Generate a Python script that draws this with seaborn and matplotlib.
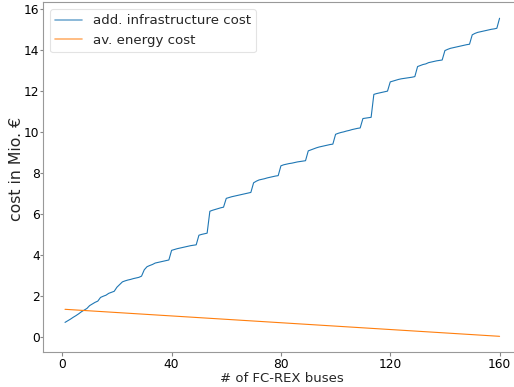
import matplotlib
matplotlib.use("Agg")
import matplotlib.pyplot as plt
import numpy as np
import pandas as pd
import seaborn as sns

# number of FC-REX buses in the fleet
buses = list(range(1, 161))

# additional charging/fuelling infrastructure cost, Mio. €
infra_cost = [
    0.70, 0.78, 0.86, 0.95, 1.03, 1.12, 1.22, 1.30, 1.38, 1.52,
    1.60, 1.68, 1.74, 1.92, 1.98, 2.03, 2.12, 2.17, 2.22, 2.42,
    2.55, 2.68, 2.73, 2.77, 2.80, 2.84, 2.87, 2.90, 2.96, 3.27,
    3.42, 3.48, 3.53, 3.60, 3.63, 3.66, 3.69, 3.72, 3.75, 4.22,
    4.26, 4.30, 4.33, 4.36, 4.39, 4.42, 4.45, 4.47, 4.49, 4.96,
    5.00, 5.03, 5.06, 6.13, 6.18, 6.22, 6.26, 6.30, 6.33, 6.76,
    6.80, 6.84, 6.87, 6.90, 6.93, 6.96, 6.99, 7.02, 7.05, 7.52,
    7.60, 7.66, 7.69, 7.72, 7.76, 7.79, 7.82, 7.85, 7.87, 8.35,
    8.40, 8.43, 8.46, 8.48, 8.51, 8.54, 8.56, 8.58, 8.60, 9.08,
    9.13, 9.18, 9.23, 9.27, 9.30, 9.33, 9.36, 9.39, 9.41, 9.89,
    9.94, 9.98, 10.01, 10.05, 10.08, 10.12, 10.15, 10.18, 10.20, 10.66,
    10.68, 10.70, 10.72, 11.84, 11.88, 11.91, 11.94, 11.97, 12.00, 12.45,
    12.49, 12.53, 12.57, 12.60, 12.62, 12.64, 12.66, 12.68, 12.71, 13.20,
    13.25, 13.30, 13.33, 13.39, 13.42, 13.45, 13.48, 13.50, 13.52, 13.98,
    14.04, 14.09, 14.12, 14.15, 14.18, 14.21, 14.24, 14.27, 14.29, 14.75,
    14.82, 14.87, 14.90, 14.93, 14.96, 14.99, 15.02, 15.04, 15.07, 15.56,
]

# average energy cost falls linearly between the first and last fleet size
energy_buses = [1, 160]
energy_cost = [1.34, 0.02]

series_names = ["add. infrastructure cost", "av. energy cost"]
x_ticks = [0, 40, 80, 120, 160]
y_ticks = [0, 2, 4, 6, 8, 10, 12, 14, 16]

df = pd.concat([
    pd.DataFrame({"buses": buses, "cost": infra_cost, "series": series_names[0]}),
    pd.DataFrame({"buses": energy_buses, "cost": energy_cost, "series": series_names[1]}),
], ignore_index=True)

sns.set_style("white")
plt.rcParams["font.family"] = ["DejaVu Sans"]
tick_fs = 8.8
xlabel_fs = 9.5
ylabel_fs = 11.3
legend_fs = 9.6

fig = plt.figure(figsize=(5.14, 3.87), dpi=100)
ax = fig.add_axes([0.0842, 0.0897, 0.930, 0.9044])

sns.lineplot(data=df, x="buses", y="cost", hue="series", hue_order=series_names,
             palette=["#1f77b4", "#ff7f0e"], linewidth=0.8, ax=ax)

ax.set_xlim(-6.95, 167.95)
ax.set_ylim(-0.76, 16.34)
ax.set_xticks(x_ticks)
ax.set_yticks(y_ticks)
ax.tick_params(axis="both", labelsize=tick_fs, width=0.8, color="#888888",
               labelcolor="black", direction="out", bottom=True, left=True)
ax.tick_params(axis="x", length=3.0, pad=1.0)
ax.tick_params(axis="y", length=2.0, pad=0.6)
for side in ["left", "bottom", "top"]:
    ax.spines[side].set_color("#999999")
    ax.spines[side].set_linewidth(0.8)
ax.spines["right"].set_visible(False)

ax.set_xlabel("# of FC-REX buses", fontsize=xlabel_fs)
ax.set_ylabel("cost in Mio. €", fontsize=ylabel_fs)
ax.xaxis.set_label_coords(0.5, -0.0563)
ax.yaxis.set_label_coords(-0.0405, 0.525)

leg = ax.legend(loc="upper left", fontsize=legend_fs, frameon=True,
                handlelength=2.0, borderaxespad=0.5)
leg.get_frame().set_edgecolor("#dddddd")
leg.get_frame().set_linewidth(0.8)
for line in leg.get_lines():
    line.set_linewidth(1.2)
    line.set_alpha(0.6)

fig.savefig("out.png", dpi=100)
